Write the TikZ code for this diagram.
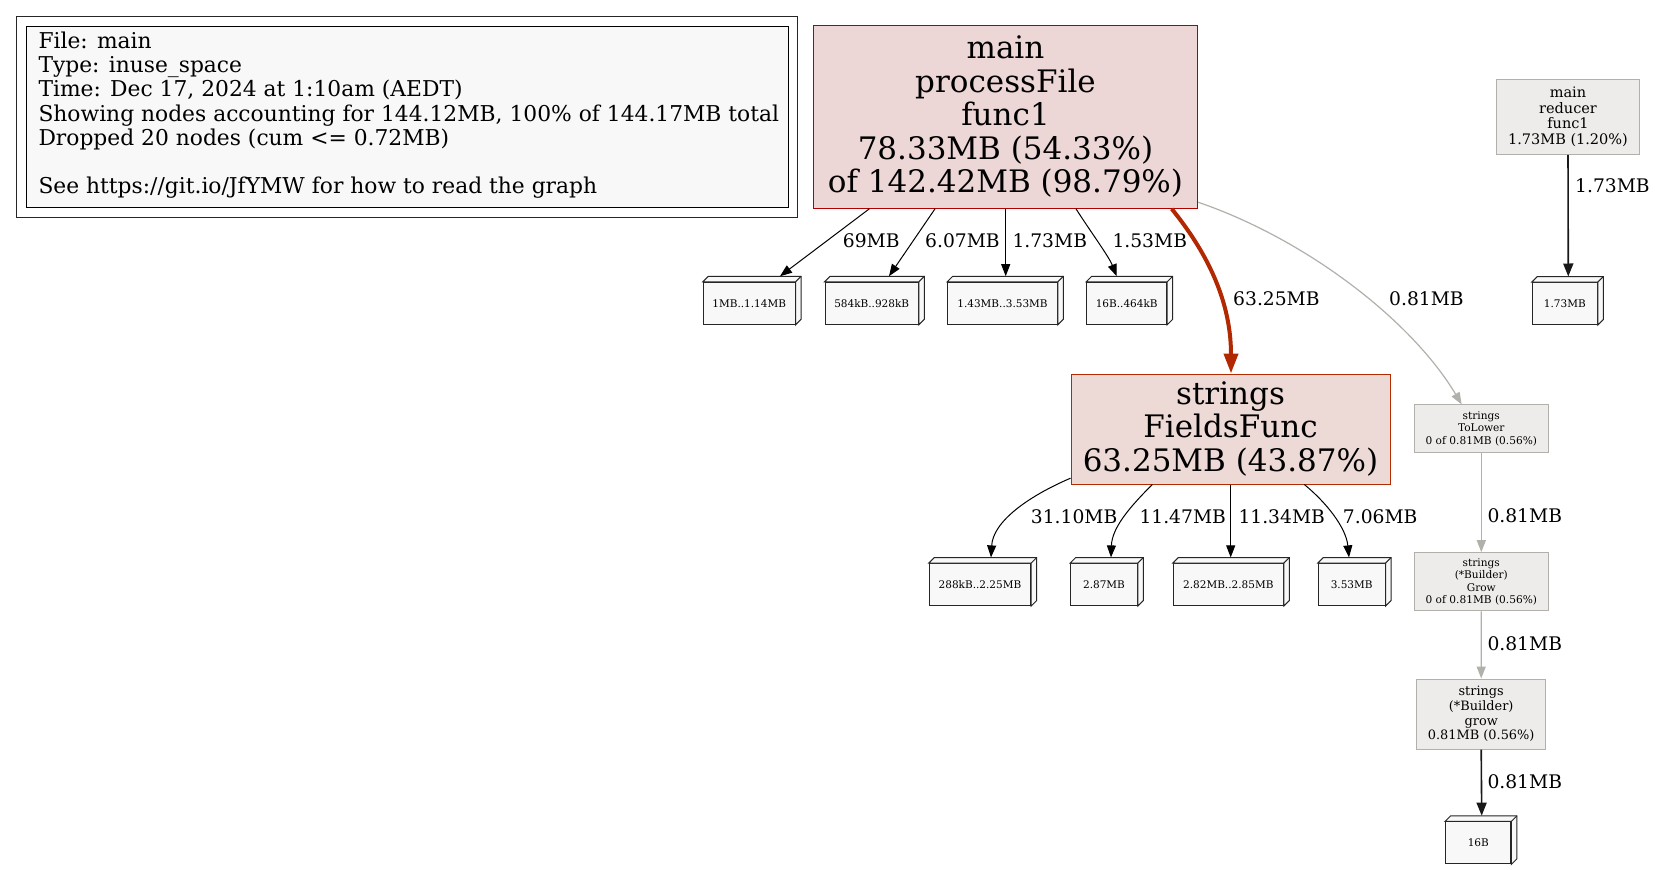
\documentclass[tikz,border=0pt]{standalone}
\usepackage{fontspec}
\setmainfont{DejaVu Serif}
\usetikzlibrary{arrows.meta,calc}
\definecolor{boxfill}{HTML}{F8F8F8}
\definecolor{mainfill}{HTML}{EDD6D6}
\definecolor{mainline}{HTML}{B20000}
\definecolor{fffill}{HTML}{EDD9D5}
\definecolor{ffline}{HTML}{B22B00}
\definecolor{redge}{HTML}{B22800}
\definecolor{grayfill}{HTML}{EDECEA}
\definecolor{grayline}{HTML}{B2B0AA}
\newcommand\cubedepth[1]{%
  \draw[cubeline,fill=boxfill] (#1.north west) -- ++(5.5,-5.5) -- ($(#1.north east)+(5.5,-5.5)$) -- ($(#1.south east)+(5.5,-5.5)$) -- (#1.south east) -- (#1.north east) -- cycle;
  \draw[cubeline] (#1.north east) -- ++(5.5,-5.5);}
\begin{document}
\begin{tikzpicture}[x=1pt,y=-1pt,
  cubeline/.style={draw=black!85,line width=1pt},
  cube/.style={cubeline,fill=boxfill,inner sep=0pt,minimum height=42,font=\fontsize{10.5}{12}\selectfont},
  fnode/.style={draw,line width=1pt,inner sep=0pt,align=center},
  bigfont/.style={font=\fontsize{31}{33.5}\selectfont},
  midfont/.style={font=\fontsize{14.5}{15.5}\selectfont},
  growfont/.style={font=\fontsize{12.9}{14.8}\selectfont},
  smallfont/.style={font=\fontsize{10.6}{12.4}\selectfont},
  elabel/.style={font=\fontsize{18.7}{22}\selectfont,inner sep=0pt,anchor=base west},
  blackedge/.style={draw=black,line width=1pt,-{Triangle[length=12pt,width=9pt]}},
  darkedge/.style={draw=black!90,line width=1.6pt,-{Triangle[length=13pt,width=10pt]}},
  grayedge/.style={draw=grayline,line width=1.2pt,-{Triangle[length=12pt,width=9pt]}},
  rededge/.style={draw=redge,line width=4pt,-{Triangle[length=20pt,width=14pt]}}]
\useasboundingbox (0,0) rectangle (1655,870);
\fill[white] (0,0) rectangle (1655,870);

% legend
\node[draw=black!85,line width=1pt,minimum width=781,minimum height=200.5,anchor=north west,inner sep=0pt] (legout) at (16,16) {};
\node[draw=black,line width=1pt,fill=boxfill,minimum width=762,minimum height=181,anchor=north west,inner sep=0pt] (legin) at (26,26) {};
\node[anchor=north west,inner sep=0pt,align=left,font=\fontsize{21.8}{24.2}\selectfont] (legtext) at (38.3,31.7)
 {File: main\\Type: inuse\_space\\Time: Dec 17, 2024 at 1:10am (AEDT)\\Showing nodes accounting for 144.12MB, 100\% of 144.17MB total\\Dropped 20 nodes (cum <= 0.72MB)\\ \strut\\See https://git.io/JfYMW for how to read the graph};

% function nodes
\node[fnode,bigfont,draw=mainline,fill=mainfill,minimum width=384.4,minimum height=183.3] (main) at (1005.5,116.7)
 {main\\processFile\\func1\\78.33MB (54.33\%)\\of 142.42MB (98.79\%)};
\node[fnode,bigfont,draw=ffline,fill=fffill,minimum width=319,minimum height=110] (ff) at (1230.5,429)
 {strings\\FieldsFunc\\63.25MB (43.87\%)};
\node[fnode,midfont,draw=grayline,fill=grayfill,minimum width=142.6,minimum height=75.3] (red) at (1568,116.7)
 {main\\reducer\\func1\\1.73MB (1.20\%)};
\node[fnode,smallfont,draw=grayline,fill=grayfill,minimum width=134,minimum height=47.7] (tolower) at (1481.3,428.8)
 {strings\\ToLower\\0 of 0.81MB (0.56\%)};
\node[fnode,smallfont,draw=grayline,fill=grayfill,minimum width=134,minimum height=58.3] (Grow) at (1481.3,581.8)
 {strings\\(*Builder)\\Grow\\0 of 0.81MB (0.56\%)};
\node[fnode,growfont,draw=grayline,fill=grayfill,minimum width=129,minimum height=70] (grow) at (1481.2,714)
 {strings\\(*Builder)\\grow\\0.81MB (0.56\%)};

% cube nodes
\node[cube,minimum width=91.7] (b1) at (749.2,303.3) {1MB..1.14MB};
\node[cube,minimum width=93.3] (b2) at (871.7,303.3) {584kB..928kB};
\node[cube,minimum width=109.6] (b3) at (1002.5,303.3) {1.43MB..3.53MB};
\node[cube,minimum width=80] (b4) at (1126.7,303.3) {16B..464kB};
\node[cube,minimum width=65] (b5) at (1564.8,303.6) {1.73MB};
\node[cube,minimum width=101.4] (c1) at (980,584.5) {288kB..2.25MB};
\node[cube,minimum width=66.6] (c2) at (1104,584.5) {2.87MB};
\node[cube,minimum width=110] (c3) at (1228.3,584.5) {2.82MB..2.85MB};
\node[cube,minimum width=66.7] (c4) at (1351.7,584.5) {3.53MB};
\node[cube,minimum width=65.3] (d1) at (1478.3,842.8) {16B};
\foreach \n in {b1,b2,b3,b4,b5,c1,c2,c3,c4,d1} {\cubedepth{\n}}

% edges from main
\draw[blackedge] ($(main.south)+(-136.2,0)$) -- ($(b1.north)+(30.8,-5.6)$);
\draw[blackedge] ($(main.south)+(-70.5,0)$) -- ($(b2.north)+(17.3,-5.6)$);
\draw[blackedge] ($(main.south)+(0.2,0)$) -- ($(b3.north)+(3.2,-5.6)$);
\draw[blackedge] ($(main.south)+(70.5,0)$) .. controls +(14,22) and +(-8,-20) .. ($(b4.north)+(-10,-5.6)$);
\draw[rededge] ($(main.south)+(166.2,0)$) .. controls +(34,42) and +(0,-74) .. ($(ff.north)+(0.5,0)$);
\draw[grayedge] ($(main.south east)+(0,-6.6)$) .. controls +(108,37) and +(-50,-84) .. ($(tolower.north)+(-19.6,0)$);

\node[elabel] (l1) at (842.7,247.3) {69MB};
\node[elabel] (l2) at (925,247.3) {6.07MB};
\node[elabel] (l3) at (1012.3,247.3) {1.73MB};
\node[elabel] (l4) at (1112.3,247.3) {1.53MB};
\node[elabel] (l5) at (1233,305.7) {63.25MB};
\node[elabel] (l6) at (1389,305.7) {0.81MB};

% edges from FieldsFunc
\draw[blackedge] ($(ff.south west)+(0,-6.3)$) .. controls +(-42,18) and +(2,-36) .. ($(c1.north)+(11,-5.6)$);
\draw[blackedge] ($(ff.south)+(-78.2,0)$) .. controls +(-22,22) and +(1,-30) .. ($(c2.north)+(7,-5.6)$);
\draw[blackedge] ($(ff.south)+(0.2,0)$) -- ($(c3.north)+(2.4,-5.6)$);
\draw[blackedge] ($(ff.south)+(73.8,0)$) .. controls +(22,18) and +(-3,-30) .. ($(c4.north)+(-2.7,-5.6)$);
\node[elabel] (m1) at (1030.7,523.3) {31.10MB};
\node[elabel] (m2) at (1139.3,523.3) {11.47MB};
\node[elabel] (m3) at (1238.3,523.3) {11.34MB};
\node[elabel] (m4) at (1342.7,523.3) {7.06MB};

% right column
\draw[darkedge] (red.south) -- ($(b5.north)+(3.5,-5.6)$);
\node[elabel] (r1) at (1575,192.7) {1.73MB};
\draw[grayedge] (tolower.south) -- (Grow.north);
\node[elabel] (r2) at (1487.3,522.7) {0.81MB};
\draw[grayedge] (Grow.south) -- (grow.north);
\node[elabel] (r3) at (1487.3,650) {0.81MB};
\draw[darkedge] (grow.south) -- ($(d1.north)+(3.4,-5.6)$);
\node[elabel] (r4) at (1487.3,788.3) {0.81MB};
\end{tikzpicture}
\end{document}
